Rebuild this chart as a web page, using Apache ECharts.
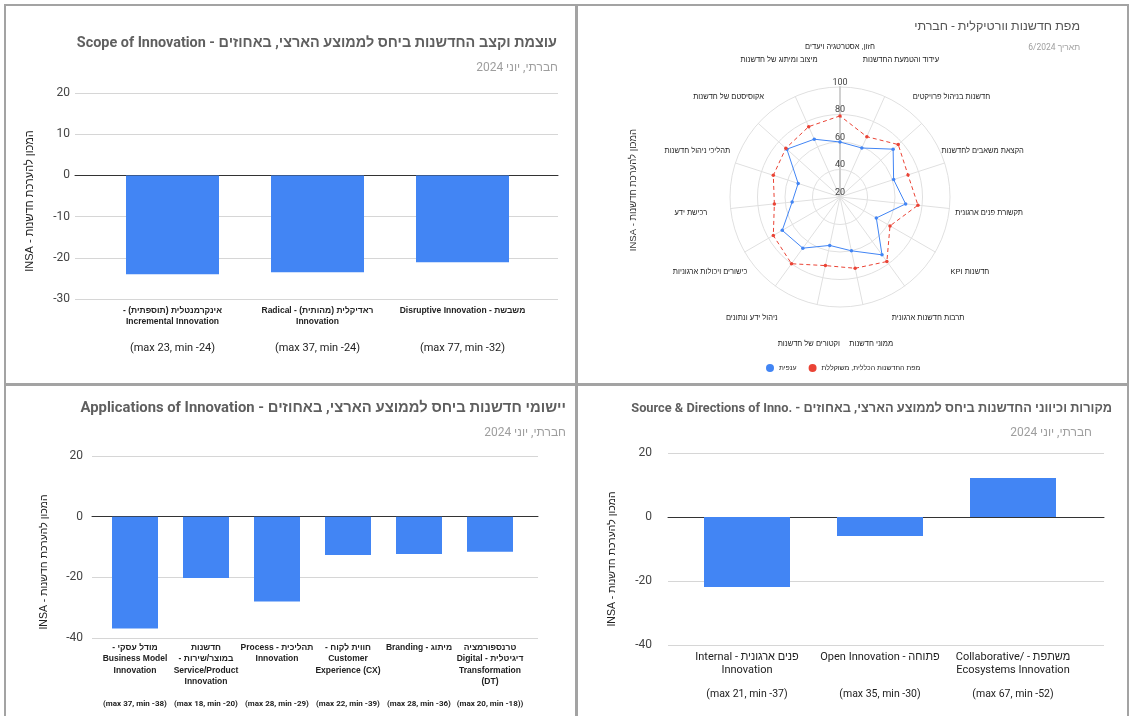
<!DOCTYPE html>
<html>
<head>
<meta charset="utf-8">
<script src="https://cdn.jsdelivr.net/npm/echarts@6/dist/echarts.min.js"></script>
<style>
  html, body { margin: 0; padding: 0; background: #fff; }
  .panel { position: absolute; border: 2px solid #a3a3a3; box-sizing: border-box; }
  #chart { position: absolute; left: 0; top: 0; width: 1129px; height: 716px; direction: rtl; }
</style>
</head>
<body>
<div class="panel" style="left:4px;top:4px;width:574px;height:382px"></div>
<div class="panel" style="left:575px;top:4px;width:554px;height:382px"></div>
<div class="panel" style="left:4px;top:383px;width:574px;height:345px"></div>
<div class="panel" style="left:575px;top:383px;width:554px;height:345px"></div>
<div id="chart"></div>
<script>
// ---- Scope of Innovation ----
const scopeCategories = [
  'אינקרמנטלית (תוספתית) -\nIncremental Innovation',
  'ראדיקלית (מהותית) - Radical\nInnovation',
  'משבשת - Disruptive Innovation'
];
const scopeValues = [-24.0, -23.5, -21.1];
const scopeRanges = ['(max 23, min -24)', '(max 37, min -24)', '(max 77, min -32)'];
const scopeTicks = [-30, -20, -10, 0, 10, 20];

// ---- Applications of Innovation ----
const appCategories = [
  'מודל עסקי -\nBusiness Model\nInnovation',
  'חדשנות\nבמוצר/שירות -\nService/Product\nInnovation',
  'תהליכית - Process\nInnovation',
  'חווית לקוח -\nCustomer\nExperience (CX)',
  'מיתוג - Branding',
  'טרנספורמציה\nדיגיטלית - Digital\nTransformation\n(DT)'
];
const appValues = [-36.9, -20.2, -28.0, -12.6, -12.3, -11.6];
const appRanges = ['(max 37, min -38)', '(max 18, min -20)', '(max 28, min -29)',
                   '(max 22, min -39)', '(max 28, min -36)', '(max 20, min -18))'];
const appTicks = [-40, -20, 0, 20];

// ---- Source & Directions of Innovation ----
const sourceCategories = [
  'פנים ארגונית - Internal\nInnovation',
  'פתוחה - Open Innovation',
  'משתפת - /Collaborative\nEcosystems Innovation'
];
const sourceValues = [-21.9, -5.9, 12.2];
const sourceRanges = ['(max 21, min -37)', '(max 35, min -30)', '(max 67, min -52)'];
const sourceTicks = [-40, -20, 0, 20];

// ---- Vertical innovation map (radar), listed counter-clockwise from the top ----
const radarAxes = [
  'חזון, אסטרטגיה ויעדים',
  'מיצוב ומיתוג של חדשנות',
  'אקוסיסטם של חדשנות',
  'תהליכי ניהול חדשנות',
  'רכישת ידע',
  'כישורים ויכולות ארגוניות',
  'ניהול ידע ונתונים',
  'וקטורים של חדשנות',
  'ממוני חדשנות',
  'תרבות חדשנות ארגונית',
  'חדשנות KPI',
  'תקשורת פנים ארגונית',
  'הקצאת משאבים לחדשנות',
  'חדשנות בניהול פרויקטים',
  'עידוד והטמעת החדשנות'
];
const sectorValues  = [60, 66, 72, 52, 55, 68.5, 66, 56, 60, 72, 50.5, 68, 61, 72, 59];
const overallValues = [79, 76, 73, 71, 68, 76, 80, 71, 73, 78, 62, 77, 72, 77, 68];
const radarTicks = [20, 40, 60, 80, 100];
const sectorName = 'ענפית';
const overallName = 'מפת החדשנות הכללית, משוקללת';

// ---- Texts ----
const yName = 'המכון להערכת חדשנות - INSA';
const subtitleDate = 'חברתי, יוני 2024';
const titleScope = 'עוצמת וקצב החדשנות ביחס לממוצע הארצי, באחוזים - Scope of Innovation';
const titleApps = 'יישומי חדשנות ביחס לממוצע הארצי, באחוזים - Applications of Innovation';
const titleSource = 'מקורות וכיווני החדשנות ביחס לממוצע הארצי, באחוזים - Source & Directions of Inno.';
const titleRadar = 'מפת חדשנות וורטיקלית - חברתי';
const subtitleRadar = 'תאריך 6/2024';

// left-to-right mark keeps Latin runs and signed numbers in order on the RTL canvas
const LRM = '\u200E';
const ltr = (s) => LRM + s + LRM;
const SANS = 'Roboto, "Liberation Sans", Arial, sans-serif';
const ARIAL = '"Liberation Sans", Arial, sans-serif';
const BLUE = '#4285f4';
const RED = '#ea4335';

const grid = [], xAxis = [], yAxis = [], series = [];

function addBarPanel(p) {
  const min = p.ticks[0], max = p.ticks[p.ticks.length - 1], interval = p.ticks[1] - p.ticks[0];
  const h = p.bottom - p.top;
  // full-width frame: gridlines, value labels and the zero line
  const gFrame = grid.length;
  grid.push({ left: p.frame[0], top: p.top, width: p.frame[1] - p.frame[0], height: h });
  xAxis.push({
    gridIndex: gFrame, type: 'category', data: p.categories,
    axisLine: { show: true, onZero: true, lineStyle: { color: '#333', width: 1 } },
    axisTick: { show: false }, axisLabel: { show: false }
  });
  yAxis.push({
    gridIndex: gFrame, type: 'value', min, max, interval,
    name: yName, nameLocation: 'middle', nameRotate: 90, nameGap: p.nameGap,
    nameTextStyle: { fontSize: p.nameSize, color: '#222', fontFamily: ARIAL, padding: p.namePad },
    axisLine: { show: false }, axisTick: { show: false },
    axisLabel: { color: '#444', fontSize: 12, fontFamily: SANS, margin: p.tickMargin,
      formatter: (v) => ltr(String(v)) },
    splitLine: { lineStyle: { color: '#d6d6d6', width: 1 } }
  });
  // inset band area holding the bars and their category texts
  const gBars = grid.length;
  grid.push({ left: p.band[0], top: p.top, width: p.band[1] - p.band[0], height: h });
  const xb = xAxis.length;
  xAxis.push({
    gridIndex: gBars, type: 'category', data: p.categories, position: 'bottom',
    axisLine: { show: false, onZero: false }, axisTick: { show: false },
    axisLabel: Object.assign({ interval: 0, color: '#222', fontFamily: ARIAL,
      formatter: (s) => s.split('\n').map(l => l + LRM).join('\n') }, p.catLabel)
  });
  xAxis.push({
    gridIndex: gBars, type: 'category', data: p.ranges, position: 'bottom', offset: p.rangeOffset,
    axisLine: { show: false, onZero: false }, axisTick: { show: false },
    axisLabel: Object.assign({ interval: 0, color: '#222', fontFamily: SANS, formatter: ltr }, p.rangeLabel)
  });
  const yb = yAxis.length;
  yAxis.push({ gridIndex: gBars, type: 'value', min, max, interval, show: false, splitLine: { show: false } });
  series.push({
    type: 'bar', xAxisIndex: xb, yAxisIndex: yb, data: p.values,
    barWidth: p.barWidth, itemStyle: { color: BLUE }
  });
}

addBarPanel({
  categories: scopeCategories, values: scopeValues, ranges: scopeRanges, ticks: scopeTicks,
  frame: [75, 558], band: [100, 535], top: 93, bottom: 299,
  barWidth: 93, nameGap: 40, nameSize: 11, namePad: [0, 10, 0, 0], tickMargin: 5,
  catLabel: { fontSize: 8.5, fontWeight: 'bold', lineHeight: 11.3, margin: 6 },
  rangeOffset: 38, rangeLabel: { fontSize: 11, margin: 6 }
});
addBarPanel({
  categories: appCategories, values: appValues, ranges: appRanges, ticks: appTicks,
  frame: [92, 538], band: [99.5, 525.5], top: 456, bottom: 638,
  barWidth: 46, nameGap: 42, nameSize: 10.5, namePad: [0, 30, 0, 0], tickMargin: 9,
  catLabel: { fontSize: 8.5, fontWeight: 'bold', lineHeight: 11.3, margin: 4 },
  rangeOffset: 58, rangeLabel: { fontSize: 8, fontWeight: 'bold', margin: 4 }
});
addBarPanel({
  categories: sourceCategories, values: sourceValues, ranges: sourceRanges, ticks: sourceTicks,
  frame: [668, 1104], band: [680.5, 1079.5], top: 453, bottom: 645,
  barWidth: 86, nameGap: 50, nameSize: 10.5, namePad: [0, 20, 0, 0], tickMargin: 16,
  catLabel: { fontSize: 11, lineHeight: 12.5, margin: 6, fontFamily: SANS },
  rangeOffset: 38, rangeLabel: { fontSize: 10.5, margin: 6 }
});

// radar series
series.push({
  type: 'radar', radarIndex: 0, symbol: 'circle', symbolSize: 3.5,
  data: [
    { name: sectorName, value: sectorValues,
      lineStyle: { color: BLUE, width: 1 }, itemStyle: { color: BLUE } },
    { name: overallName, value: overallValues,
      lineStyle: { color: RED, width: 1, type: [4, 3] }, itemStyle: { color: RED } }
  ]
});

const titleStyle = { fontSize: 14.6, fontWeight: 'bold', color: '#5f5f5f', fontFamily: SANS };
const subStyle = { fontSize: 12, fontWeight: 'normal', color: '#9e9e9e', fontFamily: SANS };
const T = (o) => Object.assign({ padding: 0 }, o);

const option = {
  animation: false,
  backgroundColor: 'transparent',
  title: [
    T({ text: ltr(titleScope), right: 1129 - 557, top: 36, textStyle: Object.assign({}, titleStyle, { fontSize: 14.4 }) }),
    T({ text: subtitleDate, right: 1129 - 558, top: 62, textStyle: subStyle }),
    T({ text: titleRadar, right: 1129 - 1080, top: 20, textStyle: Object.assign({}, titleStyle, { fontSize: 12.5, fontWeight: 'normal', color: '#555' }) }),
    T({ text: subtitleRadar, right: 1129 - 1080, top: 43, textStyle: Object.assign({}, subStyle, { fontSize: 8.5 }) }),
    T({ text: ltr(titleApps), right: 1129 - 566, top: 401, textStyle: Object.assign({}, titleStyle, { fontSize: 14.8 }) }),
    T({ text: subtitleDate, right: 1129 - 566, top: 427, textStyle: subStyle }),
    T({ text: ltr(titleSource), right: 1129 - 1112, top: 402, textStyle: Object.assign({}, titleStyle, { fontSize: 12.8 }) }),
    T({ text: subtitleDate, right: 1129 - 1092, top: 427, textStyle: subStyle })
  ],
  legend: {
    left: 766, top: 364, padding: 0, icon: 'circle', itemWidth: 8, itemHeight: 8, itemGap: 12,
    data: [sectorName, overallName],
    textStyle: { fontSize: 7, color: '#222', fontFamily: ARIAL }
  },
  radar: {
    center: [840, 197], radius: 110, startAngle: 90, shape: 'circle',
    splitNumber: radarTicks.length - 1,
    nameGap: 40,
    axisName: { color: '#222', fontSize: 7.5, fontFamily: ARIAL, align: 'center', verticalAlign: 'middle' },
    indicator: radarAxes.map((name, i) => {
      const ind = { name, min: radarTicks[0], max: radarTicks[radarTicks.length - 1] };
      if (i === 0) {
        ind.axisLabel = { show: true };
        ind.axisLine = { lineStyle: { color: '#d0d0d0', width: 2 } };
      }
      return ind;
    }),
    axisLabel: { show: false, color: '#444', fontSize: 9, fontFamily: SANS, margin: 0, align: 'center', verticalAlign: 'bottom' },
    axisLine: { lineStyle: { color: '#e0e0e0', width: 1 } },
    splitLine: { lineStyle: { color: '#e0e0e0', width: 1 } },
    splitArea: { show: false }
  },
  graphic: [
    { type: 'text', x: 633, y: 190, rotation: Math.PI / 2,
      style: { text: yName, align: 'center', verticalAlign: 'middle', fontSize: 9.5, fill: '#333', fontFamily: ARIAL } }
  ],
  grid, xAxis, yAxis, series
};

const chart = echarts.init(document.getElementById('chart'), null, { renderer: 'canvas' });
chart.setOption(option);
</script>
</body>
</html>
